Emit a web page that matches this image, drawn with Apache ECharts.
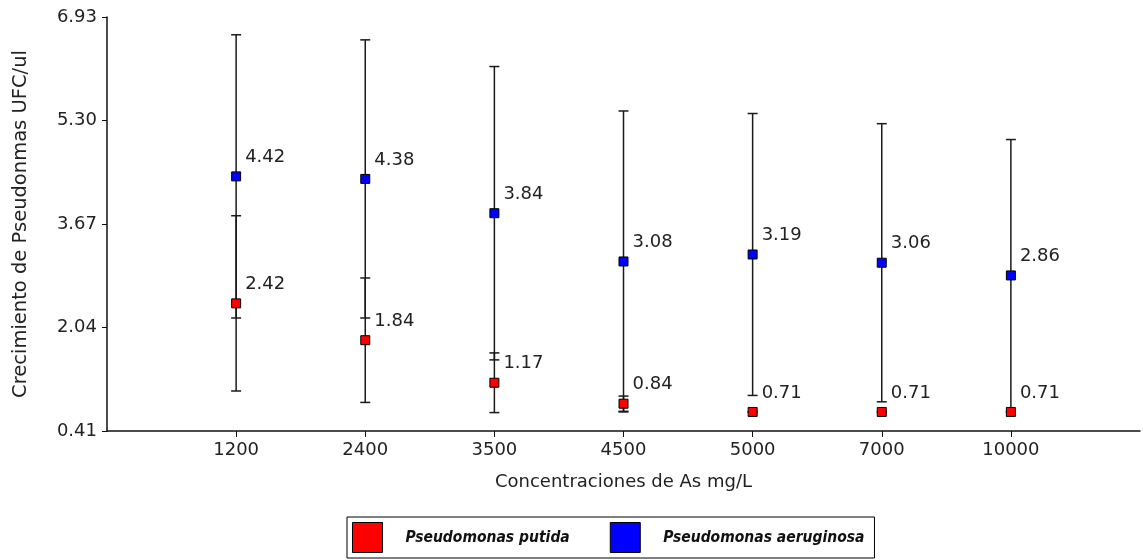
<!DOCTYPE html>
<html>
<head>
<meta charset="utf-8">
<script src="https://cdn.jsdelivr.net/npm/echarts@6/dist/echarts.min.js"></script>
<style>
  html, body { margin: 0; padding: 0; background: #fff; }
  #chart { width: 1143px; height: 560px; }
</style>
</head>
<body>
<div id="chart"></div>
<script>
// concentraciones (blank slots keep the empty space at both ends of the axis)
const categories = ['', '1200', '2400', '3500', '4500', '5000', '7000', '10000', '']
const putidaMean = [2.42, 1.84, 1.17, 0.84, 0.71, 0.71, 0.71]
const putidaSd = [1.38, 0.98, 0.47, 0.12, 0, 0, 0]
const aeruginosaMean = [4.42, 4.38, 3.84, 3.08, 3.19, 3.06, 2.86]
const aeruginosaSd = [2.23, 2.19, 2.31, 2.37, 2.22, 2.19, 2.14]
const yTicks = [0.41, 2.04, 3.67, 5.30, 6.93]

const font = 'DejaVu Sans, sans-serif'

const points = (means) => means.map((v, i) => [i + 1, v])
const bars = (means, sds) => means.map((v, i) => [i + 1, v - sds[i], v + sds[i]])

const errorBar = (params, api) => {
  const x = api.value(0)
  const lo = api.coord([x, api.value(1)])
  const hi = api.coord([x, api.value(2)])
  const cap = 5
  const style = { stroke: '#1a1a1a', lineWidth: 1.5 }
  return {
    type: 'group',
    children: [
      { type: 'line', shape: { x1: lo[0], y1: lo[1], x2: hi[0], y2: hi[1] }, style },
      { type: 'line', shape: { x1: lo[0] - cap, y1: lo[1], x2: lo[0] + cap, y2: lo[1] }, style },
      { type: 'line', shape: { x1: hi[0] - cap, y1: hi[1], x2: hi[0] + cap, y2: hi[1] }, style }
    ]
  }
}

const pointLabel = {
  show: true,
  position: 'right',
  distance: 4,
  offset: [0, -19],
  color: '#222',
  fontSize: 18,
  fontFamily: font,
  formatter: (p) => p.value[1].toFixed(2)
}

const c = echarts.init(document.getElementById('chart'))
c.setOption({
  animation: false,
  grid: { left: 107, right: 3, top: 17, bottom: 129 },
  legend: {
    data: ['Pseudomonas putida', 'Pseudomonas aeruginosa'],
    left: 347,
    top: 517,
    padding: [5, 10, 5, 5],
    itemGap: 40,
    itemWidth: 30,
    itemHeight: 30,
    icon: 'rect',
    borderColor: '#000',
    borderWidth: 1,
    itemStyle: { borderColor: '#000', borderWidth: 1 },
    textStyle: {
      color: '#111',
      fontSize: 15.5,
      fontStyle: 'italic',
      fontWeight: 'bold',
      fontFamily: 'Liberation Sans Narrow, DejaVu Sans Condensed, sans-serif',
      padding: [0, 0, 0, 18]
    }
  },
  xAxis: {
    type: 'category',
    data: categories,
    boundaryGap: false,
    name: 'Concentraciones de As mg/L',
    nameLocation: 'middle',
    nameGap: 42,
    nameTextStyle: { color: '#222', fontSize: 18, fontFamily: font },
    axisLine: { lineStyle: { color: '#111', width: 1.5 } },
    axisTick: {
      length: 6,
      interval: (i, v) => v !== '',
      lineStyle: { color: '#111' }
    },
    axisLabel: { interval: 0, margin: 10, color: '#222', fontSize: 18, fontFamily: font }
  },
  yAxis: {
    type: 'value',
    min: 0.41,
    max: 6.93,
    name: 'Crecimiento de Pseudonmas UFC/ul',
    nameLocation: 'middle',
    nameGap: 76,
    nameTextStyle: { color: '#222', fontSize: 19.5, fontFamily: font },
    splitLine: { show: false },
    axisLine: { show: true, lineStyle: { color: '#111', width: 1.5 } },
    axisTick: { show: true, length: 5, customValues: yTicks, lineStyle: { color: '#111' } },
    axisLabel: {
      margin: 10,
      color: '#222',
      fontSize: 18,
      fontFamily: font,
      customValues: yTicks,
      formatter: (v) => v.toFixed(2)
    }
  },
  series: [
    {
      name: 'eb-aeruginosa',
      type: 'custom',
      renderItem: errorBar,
      data: bars(aeruginosaMean, aeruginosaSd),
      z: 1
    },
    {
      name: 'eb-putida',
      type: 'custom',
      renderItem: errorBar,
      data: bars(putidaMean, putidaSd),
      z: 1
    },
    {
      name: 'Pseudomonas putida',
      type: 'scatter',
      symbol: 'rect',
      symbolSize: 9,
      data: points(putidaMean),
      itemStyle: { color: '#ff0000', borderColor: '#000', borderWidth: 1, opacity: 1 },
      label: pointLabel,
      z: 3
    },
    {
      name: 'Pseudomonas aeruginosa',
      type: 'scatter',
      symbol: 'rect',
      symbolSize: 9,
      data: points(aeruginosaMean),
      itemStyle: { color: '#0000ff', borderColor: '#000', borderWidth: 1, opacity: 1 },
      label: pointLabel,
      z: 3
    }
  ]
})
</script>
</body>
</html>
